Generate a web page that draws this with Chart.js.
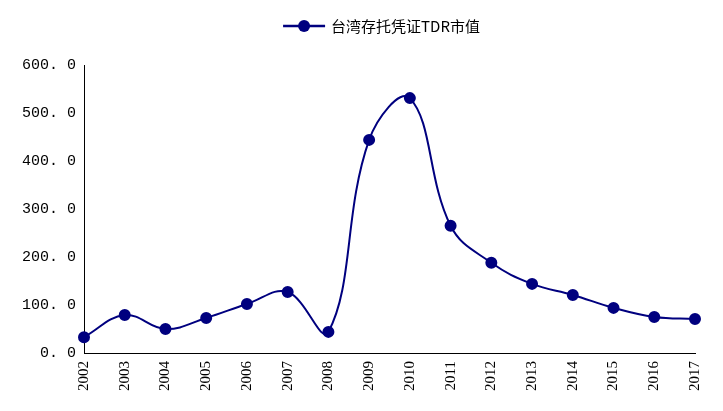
<!DOCTYPE html>
<html>
<head>
<meta charset="utf-8">
<script src="https://cdn.jsdelivr.net/npm/chart.js@4/dist/chart.umd.min.js"></script>
<style>
  html, body { margin: 0; padding: 0; background: #fff; }
  #wrap { width: 723px; height: 411px; }
</style>
</head>
<body>
<div id="wrap"><canvas id="tdrChart"></canvas></div>
<script>
// Taiwan depositary receipts market value, by year
const years = ['2002','2003','2004','2005','2006','2007','2008','2009','2010','2011','2012','2013','2014','2015','2016','2017'];
const tdrValues = [33, 79, 50, 73, 102, 127, 44, 444, 531, 265, 188, 144, 121, 94, 75, 71];
const seriesName = '台湾存托凭证TDR市值';

const navy = '#00007f';

// legend drawn by hand: line with a dot in the middle, then the label
const topLegend = {
  id: 'topLegend',
  afterDraw(chart) {
    const ctx = chart.ctx;
    const y = 26;
    ctx.save();
    ctx.font = '15px "Noto Sans CJK SC"';
    const textW = ctx.measureText(seriesName).width;
    const lineW = 42;
    const total = lineW + 6 + textW;
    const x0 = (chart.width - total) / 2 + 20;
    ctx.strokeStyle = navy;
    ctx.lineWidth = 2.5;
    ctx.beginPath();
    ctx.moveTo(x0, y);
    ctx.lineTo(x0 + lineW, y);
    ctx.stroke();
    ctx.fillStyle = navy;
    ctx.beginPath();
    ctx.arc(x0 + lineW / 2, y, 6, 0, Math.PI * 2);
    ctx.fill();
    ctx.fillStyle = '#000';
    ctx.textBaseline = 'middle';
    ctx.fillText(seriesName, x0 + lineW + 6, y);
    ctx.restore();
  }
};

new Chart(document.getElementById('tdrChart'), {
  type: 'line',
  data: {
    labels: years,
    datasets: [{
      label: seriesName,
      data: tdrValues,
      borderColor: navy,
      backgroundColor: navy,
      borderWidth: 2,
      tension: 0.4,
      pointRadius: 5,
      pointBackgroundColor: navy,
      pointBorderColor: navy
    }]
  },
  options: {
    responsive: true,
    maintainAspectRatio: false,
    animation: false,
    layout: { padding: { top: 65, right: 28, left: 8, bottom: 0 } },
    plugins: { legend: { display: false }, tooltip: { enabled: false } },
    scales: {
      x: {
        offset: false,
        grid: { display: false, drawTicks: true, tickLength: 5, color: '#000' },
        border: { color: '#000', width: 1 },
        afterFit: s => { s.height = 58; },
        ticks: {
          color: '#000',
          font: { family: '"Liberation Serif"', size: 15 },
          maxRotation: 90, minRotation: 90,
          autoSkip: false
        }
      },
      y: {
        min: 0, max: 600,
        grid: { display: false, drawTicks: true, tickLength: 5, color: '#000' },
        border: { color: '#000', width: 1 },
        afterFit: s => { s.width = 76; },
        ticks: {
          stepSize: 100,
          color: '#000',
          font: { family: '"Liberation Mono"', size: 15 },
          callback: v => v.toFixed(1).replace('.', '. ')
        }
      }
    }
  },
  plugins: [topLegend]
});
</script>
</body>
</html>
